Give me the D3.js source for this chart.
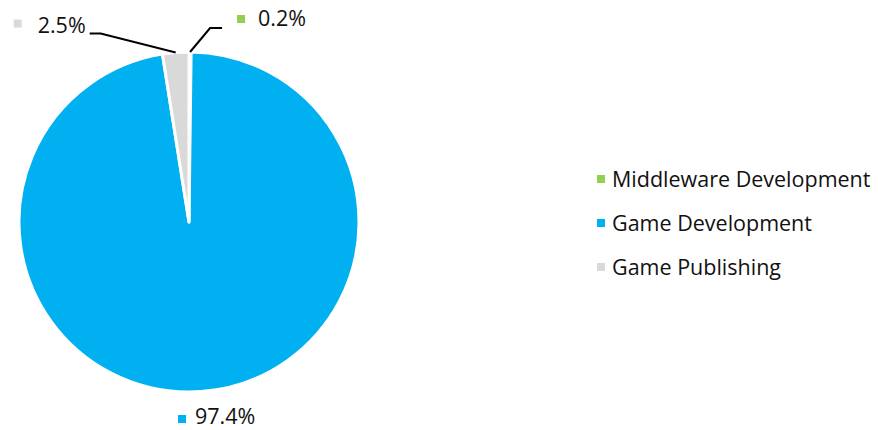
<!DOCTYPE html>
<html><head><meta charset="utf-8">
<script src="https://cdn.jsdelivr.net/npm/d3@7"></script>
<style>body{margin:0;background:#fff}svg{display:block}text{font-family:"Open Sans",sans-serif;fill:#111}</style>
</head><body><svg id="c" width="878" height="430"></svg>
<script>
const categories = ["Middleware Development", "Game Development", "Game Publishing"];
const values = [0.2, 97.4, 2.5];
const labels = ["0.2%", "97.4%", "2.5%"];
const colors = ["#92D050", "#00B0F0", "#D9D9D9"];

const svg = d3.select("#c");
const cx = 189, cy = 222, R = 170;
const g = svg.append("g").attr("transform", `translate(${cx},${cy})`);
const pie = d3.pie().sort(null).value(d => d)(values);
const arc = d3.arc().innerRadius(0).outerRadius(R);
g.selectAll("path").data(pie).enter().append("path")
  .attr("d", arc).attr("fill", (d,i) => colors[i])
  .attr("stroke", "#fff").attr("stroke-width", 3).attr("stroke-linejoin","round");

function edge(d){ const a=(d.startAngle+d.endAngle)/2; return [R*Math.sin(a), -R*Math.cos(a)]; }
const fs = 21.5;
// Middleware label (0.2%) - right of top
{
  const p = edge(pie[0]);
  const e = [p[0]+20, p[1]-24], t = [e[0]+12, e[1]];
  g.append("polyline").attr("points",[p,e,t].map(q=>q.join(",")).join(" ")).attr("fill","none").attr("stroke","#000").attr("stroke-width",2);
  g.append("rect").attr("x", t[0]+15).attr("y", t[1]-13).attr("width",8).attr("height",8).attr("fill",colors[0]);
  g.append("text").attr("x", t[0]+36).attr("y", t[1]-2).attr("font-size",fs).text(labels[0]);
}
// Publishing label (2.5%) - left of top
{
  const p = edge(pie[2]);
  const e = [p[0]-75, p[1]-19], t = [e[0]-11, e[1]];
  g.append("polyline").attr("points",[p,e,t].map(q=>q.join(",")).join(" ")).attr("fill","none").attr("stroke","#000").attr("stroke-width",2);
  g.append("text").attr("x", t[0]-4).attr("y", t[1]-1).attr("font-size",fs).attr("text-anchor","end").text(labels[2]);
  g.append("rect").attr("x", t[0]-76).attr("y", t[1]-14).attr("width",8).attr("height",8).attr("fill",colors[2]);
}
// Game Development label (97.4%) - below
{
  const y = R + 23;
  g.append("rect").attr("x", -11).attr("y", y).attr("width",8).attr("height",8).attr("fill",colors[1]);
  g.append("text").attr("x", 6).attr("y", y+9).attr("font-size",fs).text(labels[1]);
}
// Legend
const leg = svg.append("g").attr("transform","translate(597,179)");
categories.forEach((c,i)=>{
  const row = leg.append("g").attr("transform",`translate(0,${i*44})`);
  row.append("rect").attr("x",0).attr("y",-4).attr("width",8).attr("height",8).attr("fill",colors[i]);
  row.append("text").attr("x",15).attr("y",7.5).attr("font-size",fs).text(c);
});
</script></body></html>
